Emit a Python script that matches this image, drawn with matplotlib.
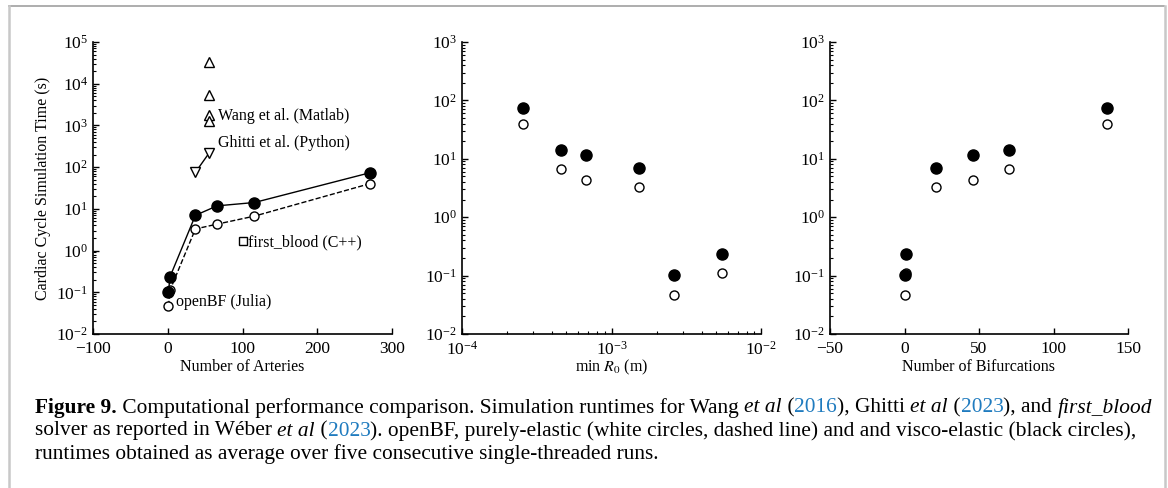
import matplotlib
matplotlib.use('Agg')
import matplotlib.pyplot as plt
from matplotlib.lines import Line2D
import numpy as np

# 数据
arteries     = [1, 3, 37, 66, 116, 270]
bifurcations = [0, 1, 21, 46, 70, 136]
min_r0       = [2.62e-3, 5.46e-3, 1.53e-3, 6.74e-4, 4.57e-4, 2.56e-4]
t_visco      = [0.103, 0.235, 7.0, 11.8, 14.2, 73]
t_elastic    = [0.047, 0.112, 3.3, 4.3, 6.7, 40]

wang_x   = [55, 55, 55, 55]
wang_t   = [33000, 5500, 1800, 1250]
ghitti_x = [37, 55]
ghitti_t = [75, 214]
fb_x     = [100]
fb_t     = [1.7]

plt.rcParams['font.family'] = 'Liberation Serif'
plt.rcParams['mathtext.fontset'] = 'stix'
plt.rcParams['axes.unicode_minus'] = True

fig = plt.figure(figsize=(11.68, 4.88), dpi=100)
W, H = 1168, 488

def px_axes(l, t, r, b):
    return fig.add_axes([l / W, 1 - b / H, (r - l) / W, (b - t) / H])

ax1 = px_axes(93, 42, 392, 334)
ax2 = px_axes(462, 42, 761, 334)
ax3 = px_axes(830, 42, 1128, 334)

for ax in (ax1, ax2, ax3):
    ax.set_yscale('log')
    for s in ('top', 'right'):
        ax.spines[s].set_visible(False)
    for s in ('left', 'bottom'):
        ax.spines[s].set_linewidth(1.2)
    ax.tick_params(which='major', direction='in', length=4, width=1.0, labelsize=12.5)
    ax.tick_params(axis='x', which='major', pad=5)
    ax.tick_params(which='minor', direction='in', length=2.5, width=0.8)

wcirc = dict(marker='o', ms=6.5, mfc='white', mec='black', mew=1.0, color='black')
bcirc = dict(marker='o', ms=8, mfc='black', mec='black', color='black')

# 面板1：动脉数量
ax1.plot(arteries, t_elastic, ls='--', lw=1.0, **wcirc, zorder=3)
ax1.plot(arteries, t_visco, ls='-', lw=1.0, **bcirc, zorder=4)
ax1.plot(wang_x, wang_t, ls='none', marker='^', ms=6.5, mfc='white', mec='black', mew=1.0)
ax1.plot(ghitti_x, ghitti_t, ls='-', lw=1.0, color='black', marker='v', ms=7,
         mfc='white', mec='black', mew=1.0)
ax1.plot(fb_x, fb_t, ls='none', marker='s', ms=6, mfc='white', mec='black', mew=1.0)
ax1.text(67, 1680, 'Wang et al. (Matlab)', fontsize=11.5, va='center')
ax1.text(67, 380, 'Ghitti et al. (Python)', fontsize=11.5, va='center')
ax1.text(108, 1.6, 'first_blood (C++)', fontsize=11.5, va='center')
ax1.text(11, 0.058, 'openBF (Julia)', fontsize=11.5, va='center')
ax1.set_xlim(-100, 300)
ax1.set_ylim(1e-2, 1e5)
ax1.set_xticks([-100, 0, 100, 200, 300])
ax1.set_yticks([10.0 ** k for k in range(-2, 6)])
ax1.set_xlabel('Number of Arteries', fontsize=11.5)
ax1.set_ylabel('Cardiac Cycle Simulation Time (s)', fontsize=11.5, labelpad=4)

# 面板2：最小半径
ax2.set_xscale('log')
ax2.plot(min_r0, t_elastic, ls='none', **wcirc)
ax2.plot(min_r0, t_visco, ls='none', **bcirc)
ax2.set_xlim(1e-4, 1e-2)
ax2.set_ylim(1e-2, 1e3)
ax2.set_yticks([10.0 ** k for k in range(-2, 4)])
ax2.set_xlabel('min $R_0$ (m)', fontsize=11.5)

# 面板3：分叉数量
ax3.plot(bifurcations, t_elastic, ls='none', **wcirc)
ax3.plot(bifurcations, t_visco, ls='none', **bcirc)
ax3.set_xlim(-50, 150)
ax3.set_ylim(1e-2, 1e3)
ax3.set_xticks([-50, 0, 50, 100, 150])
ax3.set_yticks([10.0 ** k for k in range(-2, 4)])
ax3.set_xlabel('Number of Bifurcations', fontsize=11.5)

for ax in (ax1, ax2, ax3):
    ax.xaxis.label.set_va('center')
    ax.xaxis.set_label_coords(0.5, -0.113)

# 外框
def fline(x0, y0, x1, y1, **kw):
    fig.add_artist(Line2D([x0 / W, x1 / W], [1 - y0 / H, 1 - y1 / H],
                          transform=fig.transFigure, **kw))

fline(8.5, 6, 1164, 6, color='#a0a0a0', lw=1.2)
fline(8.5, 6, 8.5, 488, color='#c8c8c8', lw=1.8)
fline(1164.5, 6, 1164.5, 488, color='#c8c8c8', lw=1.8)

# 图注（分段绘制）
blue = '#1f7bbf'
fs = 15.4
lines = [
    [('Figure 9.', 'bold', 'normal', 'black'),
     (' Computational performance comparison. Simulation runtimes for Wang ', 'normal', 'normal', 'black'),
     ('et al', 'normal', 'italic', 'black'), (' (', 'normal', 'normal', 'black'),
     ('2016', 'normal', 'normal', blue), ('), Ghitti ', 'normal', 'normal', 'black'),
     ('et al', 'normal', 'italic', 'black'), (' (', 'normal', 'normal', 'black'),
     ('2023', 'normal', 'normal', blue), ('), and ', 'normal', 'normal', 'black'),
     ('first_blood', 'normal', 'italic', 'black')],
    [('solver as reported in Wéber ', 'normal', 'normal', 'black'),
     ('et al', 'normal', 'italic', 'black'), (' (', 'normal', 'normal', 'black'),
     ('2023', 'normal', 'normal', blue),
     ('). openBF, purely-elastic (white circles, dashed line) and and visco-elastic (black circles),',
      'normal', 'normal', 'black')],
    [('runtimes obtained as average over five consecutive single-threaded runs.', 'normal', 'normal', 'black')],
]
renderer = fig.canvas.get_renderer()
y_px = [408, 431, 454]
for segs, yp in zip(lines, y_px):
    x = 35
    for txt, wgt, sty, col in segs:
        t = fig.text(x / W, 1 - yp / H, txt, fontsize=fs, fontweight=wgt, fontstyle=sty,
                     color=col, va='center', ha='left')
        bb = t.get_window_extent(renderer=renderer)
        x += bb.width

fig.savefig('out.png', dpi=100)
